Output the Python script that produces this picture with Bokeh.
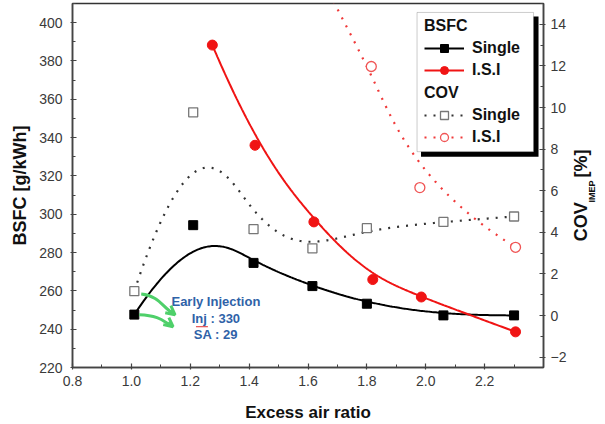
import numpy as np
from bokeh.plotting import figure
from bokeh.models import (Range1d, LinearAxis, SingleIntervalTicker, FixedTicker, Legend,
                          LegendItem, BoxAnnotation, Label, Arrow, OpenHead,
                          PrintfTickFormatter)
from bokeh.embed import file_html
from bokeh.resources import INLINE

# Excess air ratio (lambda) and measured values
lam_bsfc_single = [1.01, 1.21, 1.415, 1.615, 1.80, 2.06, 2.30]
bsfc_single = [247.6, 294.3, 274.6, 262.5, 253.3, 247.2, 247.2]

lam_bsfc_isi = [1.275, 1.42, 1.62, 1.82, 1.985, 2.305]
bsfc_isi = [388.3, 336.0, 296.0, 265.9, 256.8, 238.6]

lam_cov_single = [1.01, 1.21, 1.415, 1.615, 1.80, 2.06, 2.30]
cov_single = [1.17, 9.77, 4.15, 3.23, 4.20, 4.50, 4.76]

lam_cov_isi = [1.275, 1.42, 1.62, 1.815, 1.98, 2.305]
cov_isi = [30.0, 24.0, 16.5, 11.97, 6.15, 3.28]

note_lines = ["Early Injection", "Inj : 330", "SA : 29"]

# axis ranges and frame geometry (pixels)
X_LO, X_HI = 0.8, 2.4
Y_LO, Y_HI = 220, 410
C_LO, C_HI = -2.5, 15
FL, FT, FW, FH = 72, 3, 473, 366
W, H = 605, 424


def dx(px):
    return X_LO + (px - FL) / FW * (X_HI - X_LO)


def dy(py):
    return Y_HI - (py - FT) / FH * (Y_HI - Y_LO)


def bspline(xs, ys, degree=3, n=300):
    """Clamped cubic B-spline using the data points as control points."""
    P = np.column_stack([xs, ys]).astype(float)
    m = len(P)
    k = min(degree, m - 1)
    knots = np.concatenate([np.zeros(k + 1), np.arange(1, m - k), np.full(k + 1, m - k)])
    ts = np.linspace(0, m - k, n)
    out = []
    for t in ts:
        s = m - 1 if t >= knots[-1] else np.searchsorted(knots, t, side="right") - 1
        d = [P[j].copy() for j in range(s - k, s + 1)]
        for r in range(1, k + 1):
            for j in range(k, r - 1, -1):
                i = j + s - k
                den = knots[i + k + 1 - r] - knots[i]
                a = 0.0 if den == 0 else (t - knots[i]) / den
                d[j] = (1 - a) * d[j - 1] + a * d[j]
        out.append(d[k])
    out = np.array(out)
    return out[:, 0], out[:, 1]


FONT = "Liberation Sans"

p = figure(width=W, height=H, output_backend="svg", toolbar_location=None,
           x_range=Range1d(X_LO, X_HI), y_range=Range1d(Y_LO, Y_HI),
           min_border_left=FL, min_border_right=W - FL - FW,
           min_border_top=FT, min_border_bottom=H - FT - FH)
# "px" runs top-down in frame pixels; used to place the right-hand title pieces
p.extra_y_ranges = {"cov": Range1d(C_LO, C_HI), "px": Range1d(FH, 0)}
p.xgrid.visible = False
p.ygrid.visible = False
p.outline_line_color = "#333333"
p.outline_line_width = 1.5
p.background_fill_color = "white"
p.border_fill_color = "white"

right = LinearAxis(y_range_name="cov")
p.add_layout(right, "right")

p.xaxis[0].ticker = SingleIntervalTicker(interval=0.2, num_minor_ticks=2)
p.xaxis[0].formatter = PrintfTickFormatter(format="%.1f")
p.yaxis[0].ticker = SingleIntervalTicker(interval=20, num_minor_ticks=2)
right.ticker = SingleIntervalTicker(interval=2, num_minor_ticks=2)

p.xaxis[0].axis_label = "Excess air ratio"
p.yaxis[0].axis_label = "BSFC [g/kWh]"

for ax in (p.xaxis[0], p.yaxis[0], right):
    ax.axis_line_color = "#444444"
    ax.axis_line_width = 1.5
    ax.major_tick_line_color = "#444444"
    ax.minor_tick_line_color = "#444444"
    ax.major_tick_line_width = 1.2
    ax.major_label_text_font = FONT
    ax.major_label_text_font_size = "14px"
    ax.major_label_text_color = "#3a3a3a"
    ax.axis_label_text_font = FONT
    ax.axis_label_text_font_style = "bold"
    ax.axis_label_text_font_size = "17px"
    ax.axis_label_text_color = "#111111"
    ax.major_tick_in = 4
    ax.major_tick_out = 2
    ax.minor_tick_in = 3
    ax.minor_tick_out = 0

p.xaxis[0].major_label_standoff = 6
p.xaxis[0].axis_label_standoff = 14
p.yaxis[0].major_label_standoff = 8
p.yaxis[0].axis_label_standoff = 6
p.yaxis[0].axis_label_text_font_size = "18px"
right.major_label_standoff = 5


def title_axis(labels, size, standoff):
    ax = LinearAxis(y_range_name="px", ticker=FixedTicker(ticks=list(labels.keys())),
                    major_label_overrides=labels, major_label_orientation=np.pi / 2)
    ax.axis_line_color = None
    ax.major_tick_line_color = None
    ax.minor_tick_line_color = None
    ax.major_label_text_font = FONT
    ax.major_label_text_font_style = "bold"
    ax.major_label_text_font_size = size
    ax.major_label_text_color = "#111111"
    ax.major_label_standoff = standoff
    return ax


# right-hand title: COV with subscript IMEP, then [%]
p.add_layout(title_axis({239: "COV", 175: "[%]"}, "18px", 6), "right")
p.add_layout(title_axis({200: "IMEP"}, "9px", -18), "right")

# BSFC curves (left axis)
cx, cy = bspline(lam_bsfc_single, bsfc_single)
l_bs = p.line(cx, cy, line_color="black", line_width=2)
m_bs = p.scatter(lam_bsfc_single, bsfc_single, marker="square", size=9, color="black")

cx, cy = bspline(lam_bsfc_isi, bsfc_isi)
l_bi = p.line(cx, cy, line_color="#f01414", line_width=2)
m_bi = p.scatter(lam_bsfc_isi, bsfc_isi, marker="circle", size=10, color="#f01414")

# COV curves (right axis)
cx, cy = bspline(lam_cov_single, cov_single)
l_cs = p.line(cx, cy, line_color="#333333", line_width=2.2, line_dash="2 7",
              y_range_name="cov")
m_cs = p.scatter(lam_cov_single, cov_single, marker="square", size=9,
                 fill_color="white", line_color="#777777", line_width=1.3,
                 y_range_name="cov")

cx, cy = bspline(lam_cov_isi, cov_isi)
l_ci = p.line(cx, cy, line_color="#f03838", line_width=2.2, line_dash="2 7",
              y_range_name="cov")
m_ci = p.scatter(lam_cov_isi, cov_isi, marker="circle", size=10,
                 fill_color="white", line_color="#f05555", line_width=1.3,
                 y_range_name="cov")

# legend frame with drop shadow
p.add_layout(BoxAnnotation(left=dx(422), right=dx(540), top=dy(16), bottom=dy(157),
                           fill_color="black", fill_alpha=1, line_alpha=0))
p.add_layout(BoxAnnotation(left=dx(418), right=dx(535), top=dy(12), bottom=dy(152),
                           fill_color="white", fill_alpha=1, line_color="#555555",
                           line_width=1))


def make_legend(title, items, bottom_px):
    lg = Legend(items=items, title=title, location=(424 - FL, FT + FH - bottom_px))
    lg.title_text_font = FONT
    lg.title_text_font_style = "bold"
    lg.title_text_font_size = "16px"
    lg.title_text_color = "#111111"
    lg.title_standoff = 3
    lg.label_text_font = FONT
    lg.label_text_font_style = "bold"
    lg.label_text_font_size = "16px"
    lg.label_text_color = "#111111"
    lg.glyph_width = 40
    lg.glyph_height = 20
    lg.label_height = 20
    lg.label_standoff = 8
    lg.spacing = 2
    lg.padding = 0
    lg.margin = 0
    lg.border_line_alpha = 0
    lg.background_fill_alpha = 0
    return lg


p.add_layout(make_legend("BSFC", [LegendItem(label="Single", renderers=[l_bs, m_bs]),
                                  LegendItem(label="I.S.I", renderers=[l_bi, m_bi])], 82))
p.add_layout(make_legend("COV", [LegendItem(label="Single", renderers=[l_cs, m_cs]),
                                 LegendItem(label="I.S.I", renderers=[l_ci, m_ci])], 149))

# injection note
for txt, py in zip(note_lines, [303, 320, 336]):
    p.add_layout(Label(x=dx(216), y=dy(py), text=txt, text_align="center",
                       text_baseline="middle", text_font=FONT, text_font_style="bold",
                       text_font_size="13px", text_color="#2f62a8"))
p.line([dx(196), dx(208)], [dy(328), dy(328)], line_color="#e03030", line_width=1)

# green arrows toward the note
green = "#4fd06a"
p.bezier(x0=[dx(141), dx(139)], y0=[dy(295), dy(316)],
         x1=[dx(174), dx(172)], y1=[dy(315), dy(327)],
         cx0=[dx(160), dx(162)], cy0=[dy(297), dy(317)],
         cx1=[dx(163), dx(164)], cy1=[dy(310), dy(324)],
         line_color=green, line_width=3)
for (x0, y0, x1, y1) in [(170, 312, 175, 316), (168, 324, 173, 328)]:
    p.add_layout(Arrow(end=OpenHead(size=9, line_color=green, line_width=3),
                       x_start=dx(x0), y_start=dy(y0), x_end=dx(x1), y_end=dy(y1),
                       line_color=green, line_width=3))

open("out.html", "w").write(file_html(p, INLINE))
